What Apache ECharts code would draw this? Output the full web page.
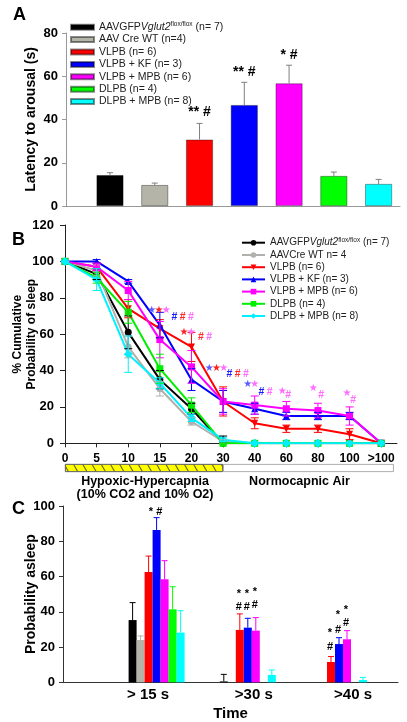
<!DOCTYPE html>
<html><head><meta charset="utf-8">
<script src="https://cdn.jsdelivr.net/npm/echarts@6/dist/echarts.min.js"></script>
<style>html,body{margin:0;padding:0;background:#fff}#c{width:407px;height:722px}</style>
</head><body><div id="c"></div>
<script>
// ---------- Panel A: latency to arousal ----------
const groupNamesA = ['AAVGFPVglut2flox/flox (n= 7)', 'AAV Cre WT (n=4)', 'VLPB (n= 6)', 'VLPB + KF (n= 3)', 'VLPB + MPB (n= 6)', 'DLPB (n= 4)', 'DLPB + MPB (n= 8)'];
const latency = [14.3, 9.7, 30.7, 46.7, 56.7, 13.9, 10.2];
const latencyErr = [1.1, 0.9, 7.5, 10.5, 8.4, 1.8, 2.1];
const annotA = [[2, 43.3, '** #'], [3, 62, '** #'], [4, 69.8, '* #']];

// ---------- Panel B: cumulative probability of sleep ----------
const timeLabels = ['0', '5', '10', '15', '20', '30', '40', '60', '80', '100', '>100'];
const groupNamesB = ['AAVGFPVglut2flox/flox (n= 7)', 'AAVCre WT n= 4', 'VLPB (n= 6)', 'VLPB + KF (n= 3)', 'VLPB + MPB (n= 6)', 'DLPB (n= 4)', 'DLPB + MPB (n= 8)'];
const cumAAVGFP  = [100, 93, 61, 35, 19, 0, 0, 0, 0, 0, 0];
const cumAAVCre  = [100, 95, 53, 30, 12, 1, 0, 0, 0, 0, 0];
const cumVLPB    = [100, 97, 74, 63, 53, 23, 11, 8, 8, 5, 0];
const cumVLPBKF  = [100, 100, 89, 65, 35, 23, 19, 15, 15, 15, 0];
const cumVLPBMPB = [100, 97, 84, 57, 42, 23, 21, 19, 18, 15, 0];
const cumDLPB    = [100, 91, 72, 41, 21, 0, 0, 0, 0, 0, 0];
const cumDLPBMPB = [100, 90, 49, 33, 14, 2, 0, 0, 0, 0, 0];
const errAAVGFP  = [0, 3, 9, 5, 3, 4, 0, 0, 0, 0, 0];
const errAAVCre  = [0, 3, 6, 4, 2, 1, 0, 0, 0, 0, 0];
const errVLPB    = [0, 2, 5, 5, 8, 8, 3, 2, 2, 3, 0];
const errVLPBKF  = [0, 1, 1, 7, 6, 6, 3, 2, 2, 2, 0];
const errVLPBMPB = [0, 2, 5, 10, 9, 7, 5, 4, 4, 5, 0];
const errDLPB    = [0, 3, 6, 8, 4, 1, 0, 0, 0, 0, 0];
const errDLPBMPB = [0, 6, 10, 3, 2, 1, 0, 0, 0, 0, 0];
// significance marks: [x index, y value, marks, colours b=blue r=red m=magenta]
const annotB = [
  [2.97, 73.3, '***', 'brm'], [3.72, 69.4, '###', 'brm'],
  [3.88, 61.2, '**', 'rm'], [4.43, 58.4, '##', 'rm'],
  [4.79, 41.4, '***', 'brm'], [5.46, 38.1, '###', 'brm'],
  [5.89, 32.1, '**', 'bm'], [6.34, 28.2, '##', 'bm'],
  [6.87, 28.8, '*', 'm'], [7.06, 26.6, '#', 'm'],
  [7.85, 30.4, '*', 'm'], [8.10, 26.6, '#', 'm'],
  [8.92, 27.7, '*', 'm'], [9.11, 23.8, '#', 'm']
];
const phaseNames = ['Hypoxic-Hypercapnia\n(10% CO2 and 10% O2)', 'Normocapnic Air'];
const phaseEnds = [5, 10.4];

// ---------- Panel C: probability asleep ----------
const timeCats = ['> 15 s', '>30 s', '>40 s'];
const pAAVGFP  = [35.3, 0.5, 0];
const pAAVCre  = [24.0, 0, 0];
const pVLPB    = [62.6, 29.7, 11.5];
const pVLPBKF  = [86.4, 31.0, 21.7];
const pVLPBMPB = [58.4, 29.3, 24.4];
const pDLPB    = [41.4, 0, 0];
const pDLPBMPB = [28.2, 4.2, 1.3];
const epAAVGFP  = [9.9, 4.0, 0];
const epAAVCre  = [2.3, 0, 0];
const epVLPB    = [9.0, 9.1, 3.1];
const epVLPBKF  = [7.0, 5.3, 3.6];
const epVLPBMPB = [10.6, 7.4, 4.9];
const epDLPB    = [12.8, 0, 0];
const epDLPBMPB = [12.4, 2.8, 1.5];
// [category, bar index, y value, text]
const annotC = [
  [0, 3, 96.5, '* #'],
  [1, 2, 50, '*'], [1, 3, 50, '*'], [1, 4, 51, '*'],
  [1, 2, 42.7, '#'], [1, 3, 42.7, '#'], [1, 4, 43.8, '#'],
  [2, 2, 20, '#'], [2, 2, 27.8, '*'], [2, 3, 29.7, '#'], [2, 3, 38, '*'], [2, 4, 33.7, '#'], [2, 4, 41, '*']
];

// ---------- styling ----------
const FONT = "'Liberation Sans', Arial, sans-serif";
const colA = ['#000000', '#b4b4a8', '#ff0000', '#0000ff', '#ff00ff', '#00ff00', '#00ffff'];
const colB = ['#000000', '#b0b0ac', '#ff0000', '#0000ff', '#ff00ff', '#00ee00', '#00f0ff'];
const symB = ['circle', 'circle', 'triangle', 'triangle', 'rect', 'rect', 'diamond'];
const rotB = [0, 0, 180, 0, 0, 0, 0];
const markCol = {
  '*': {b: '#5b5bff', r: '#ff2020', m: '#ff6cff'},
  '#': {b: '#1a1aff', r: '#ff2a2a', m: '#ff6cff'}
};
const cumAll = [cumAAVGFP, cumAAVCre, cumVLPB, cumVLPBKF, cumVLPBMPB, cumDLPB, cumDLPBMPB];
const errAll = [errAAVGFP, errAAVCre, errVLPB, errVLPBKF, errVLPBMPB, errDLPB, errDLPBMPB];
const pAll = [pAAVGFP, pAAVCre, pVLPB, pVLPBKF, pVLPBMPB, pDLPB, pDLPBMPB];
const epAll = [epAAVGFP, epAAVCre, epVLPB, epVLPBKF, epVLPBMPB, epDLPB, epDLPBMPB];
const BARW_C = 8;

function legendRich(name) {
  return name.replace('Vglut2flox/flox', '{i|Vglut2}{s|flox/flox}');
}

function errorSeries(values, errs, color, ax, opt) {
  return {
    type: 'custom', xAxisIndex: ax, yAxisIndex: ax, z: opt.z || 4, silent: true,
    data: values.map((v, i) => [i, v, errs[i]]),
    renderItem: function (params, api) {
      const x = api.value(0), v = api.value(1), e = api.value(2);
      if (!e) return {type: 'group', children: []};
      const hi = api.coord([x, v + e]);
      const lo = api.coord([x, opt.both ? Math.max(v - e, 0) : v]);
      const X = hi[0] + (opt.dx || 0), c = opt.cap / 2;
      const st = {stroke: color, lineWidth: 1};
      const ch = [
        {type: 'line', shape: {x1: X, y1: lo[1], x2: X, y2: hi[1]}, style: st},
        {type: 'line', shape: {x1: X - c, y1: hi[1], x2: X + c, y2: hi[1]}, style: st}
      ];
      if (opt.both) ch.push({type: 'line', shape: {x1: X - c, y1: lo[1], x2: X + c, y2: lo[1]}, style: st});
      return {type: 'group', children: ch};
    }
  };
}

const axisLabelBold = (size) => ({color: '#000', fontWeight: 'bold', fontSize: size, fontFamily: FONT});

const grid = [
  {left: 87.6, top: 33, width: 313.4, height: 173},      // 0 A bars
  {left: 66, top: 33, width: 334, height: 173},          // 1 A axis line
  {left: 65, top: 225, width: 332, height: 218.3},       // 2 B
  {left: 65, top: 464, width: 332, height: 8},           // 3 phase band
  {left: 111, top: 506, width: 273.6, height: 176.3},    // 4 C bars
  {left: 63, top: 506, width: 335, height: 176.3}        // 5 C axis line
].map(g => Object.assign(g, {outerBoundsMode: 'none', containLabel: false}));

const xAxis = [
  {gridIndex: 0, type: 'category', data: groupNamesA, axisLine: {show: false}, axisTick: {show: false}, axisLabel: {show: false}},
  {gridIndex: 1, type: 'value', min: 0, max: 1, axisLine: {show: true, lineStyle: {color: '#999', width: 1}}, axisTick: {show: false}, axisLabel: {show: false}, splitLine: {show: false}},
  {gridIndex: 2, type: 'value', min: 0, max: 10.5, interval: 1,
    axisLine: {lineStyle: {color: '#222', width: 1}}, axisTick: {show: true, length: 4, lineStyle: {color: '#222'}},
    axisLabel: Object.assign(axisLabelBold(12), {margin: 9, showMaxLabel: false, formatter: v => Number.isInteger(v) ? timeLabels[v] : ''}),
    splitLine: {show: false}},
  {gridIndex: 3, type: 'value', min: 0, max: 10.5, show: false},
  {gridIndex: 4, type: 'category', data: timeCats, axisLine: {show: false}, axisTick: {show: false},
    axisLabel: {margin: 5, interval: 0, hideOverlap: false, fontSize: 15, fontWeight: 'bold', fontFamily: FONT, color: '#000',
      formatter: (v, i) => '{c' + i + '|' + v + '}',
      rich: {c0: {padding: [0, 17, 0, 0]}, c1: {padding: [0, 0, 0, 12]}, c2: {padding: [0, 0, 0, 28]}}}},
  {gridIndex: 5, type: 'value', min: 0, max: 1, axisLine: {show: true, lineStyle: {color: '#333'}}, axisTick: {show: false}, axisLabel: {show: false}, splitLine: {show: false},
    name: 'Time', nameLocation: 'middle', nameGap: 24, nameMoveOverlap: false,
    nameTextStyle: {fontSize: 15, fontWeight: 'bold', fontFamily: FONT, color: '#000'}}
];

const yAxis = [
  {gridIndex: 0, type: 'value', min: 0, max: 80, interval: 20, offset: 21.6,
    axisLine: {show: true, lineStyle: {color: '#999'}}, axisTick: {show: true, length: 4, lineStyle: {color: '#999'}},
    axisLabel: Object.assign(axisLabelBold(13), {margin: 8}), splitLine: {show: false},
    name: 'Latency to arousal (s)', nameLocation: 'middle', nameGap: 28, nameMoveOverlap: false,
    nameTextStyle: {fontSize: 14, fontWeight: 'bold', fontFamily: FONT, color: '#000'}},
  {gridIndex: 1, type: 'value', min: 0, max: 1, show: false},
  {gridIndex: 2, type: 'value', min: 0, max: 120, interval: 20,
    axisLine: {show: true, lineStyle: {color: '#222'}}, axisTick: {show: true, length: 5, lineStyle: {color: '#222'}},
    axisLabel: Object.assign(axisLabelBold(13), {margin: 11}), splitLine: {show: false},
    name: '% Cumulative\nProbability of sleep', nameLocation: 'middle', nameGap: 26, nameMoveOverlap: false,
    nameTextStyle: {fontSize: 12, fontWeight: 'bold', fontFamily: FONT, color: '#000', lineHeight: 14}},
  {gridIndex: 3, type: 'category', data: ['phase'], show: false},
  {gridIndex: 4, type: 'value', min: 0, max: 100, interval: 20, offset: 48,
    axisLine: {show: true, lineStyle: {color: '#333'}}, axisTick: {show: true, length: 4, lineStyle: {color: '#333'}},
    axisLabel: Object.assign(axisLabelBold(13), {margin: 8}), splitLine: {show: false},
    name: 'Probability asleep', nameLocation: 'middle', nameGap: 25, nameMoveOverlap: false,
    nameTextStyle: {fontSize: 14, fontWeight: 'bold', fontFamily: FONT, color: '#000'}},
  {gridIndex: 5, type: 'value', min: 0, max: 1, show: false}
];

const series = [];
// A bars
groupNamesA.forEach((n, i) => {
  series.push({
    name: 'A' + i, type: 'bar', xAxisIndex: 0, yAxisIndex: 0, stack: 'a', barWidth: 27,
    itemStyle: {color: colA[i], borderColor: 'rgba(0,0,0,0.45)', borderWidth: 0.8},
    data: groupNamesA.map((_, j) => j === i ? latency[i] : '-')
  });
});
series.push(errorSeries(latency, latencyErr, '#808080', 0, {cap: 6}));
series.push({
  type: 'custom', xAxisIndex: 0, yAxisIndex: 0, silent: true, z: 5,
  data: annotA.map(a => [a[0], a[1]]),
  renderItem: (params, api) => {
    const a = annotA[params.dataIndex];
    const p = api.coord([a[0], a[1]]);
    return {type: 'text', x: p[0], y: p[1], style: {text: a[2], fill: '#000', font: 'bold 14px ' + FONT, align: 'center', verticalAlign: 'middle'}};
  }
});

// B lines
groupNamesB.forEach((n, i) => {
  series.push({
    name: 'B' + i, type: 'line', xAxisIndex: 2, yAxisIndex: 2,
    symbol: symB[i], symbolRotate: rotB[i], symbolSize: symB[i] === 'diamond' ? 9 : 7, showAllSymbol: true,
    lineStyle: {color: colB[i], width: 2}, itemStyle: {color: colB[i]},
    data: cumAll[i].map((v, j) => [j, v]), z: 2 + i * 0.01
  });
  series.push(errorSeries(cumAll[i], errAll[i], colB[i], 2, {cap: 8, both: true, z: 3}));
});
series.push({
  type: 'custom', xAxisIndex: 2, yAxisIndex: 2, silent: true, z: 6,
  data: annotB.map(a => [a[0], a[1]]),
  renderItem: (params, api) => {
    const a = annotB[params.dataIndex];
    const p = api.coord([a[0], a[1]]);
    const n = a[2].length, step = a[2][0] === '#' ? 8.3 : 7.2;
    const ch = [];
    for (let k = 0; k < n; k++) {
      const m = a[2][k];
      ch.push({type: 'text', x: p[0] + (k - (n - 1) / 2) * step, y: p[1],
        style: {text: m === '*' ? '\u2605' : '#', fill: markCol[m][a[3][k]],
          font: (m === '*' ? '10px DejaVu Sans' : 'bold 10.5px ' + FONT), align: 'center', verticalAlign: 'middle'}});
    }
    return {type: 'group', children: ch};
  }
});
// phase band
phaseEnds.forEach((e, i) => {
  series.push({
    type: 'bar', xAxisIndex: 3, yAxisIndex: 3, stack: 'phase', barWidth: 8, silent: true,
    data: [i === 0 ? e : e - phaseEnds[i - 1]],
    itemStyle: i === 0 ? {color: '#ffff00', borderColor: '#666', borderWidth: 0.8,
      decal: {symbol: 'rect', symbolSize: 1, color: 'rgba(60,60,0,0.85)', dashArrayX: [[1, 0]], dashArrayY: [1, 7], rotation: Math.PI / 3}}
      : {color: '#ffffff', borderColor: '#999', borderWidth: 0.8},
    label: {show: true, position: 'bottom', distance: 3, offset: [i === 0 ? 1 : -9, 0], formatter: () => phaseNames[i],
      fontSize: 12.5, fontWeight: 'bold', fontFamily: FONT, color: '#000', lineHeight: 13, align: 'center'}
  });
});

// C bars
pAll.forEach((vals, i) => {
  series.push({
    type: 'bar', xAxisIndex: 4, yAxisIndex: 4, barWidth: BARW_C, barGap: '0%', silent: true,
    itemStyle: {color: colA[i]}, data: vals
  });
  series.push(errorSeries(vals, epAll[i], colA[i], 4, {cap: 6, dx: (i - 3) * BARW_C}));
});
series.push({
  type: 'custom', xAxisIndex: 4, yAxisIndex: 4, silent: true, z: 6,
  data: annotC.map(a => [a[0], a[2]]),
  renderItem: (params, api) => {
    const a = annotC[params.dataIndex];
    const p = api.coord([a[0], a[2]]);
    return {type: 'text', x: p[0] + (a[1] - 3) * BARW_C - 1, y: p[1],
      style: {text: a[3], fill: '#000', font: 'bold 11px ' + FONT, align: 'center', verticalAlign: 'middle'}};
  }
});

const richLegend = (size) => ({
  i: {fontStyle: 'italic', fontSize: size, fontFamily: FONT, color: '#222', lineHeight: 12.4},
  s: {fontSize: 6.5, fontFamily: FONT, color: '#222', verticalAlign: 'top', lineHeight: 7}
});

const option = {
  animation: false,
  backgroundColor: '#fff',
  grid: grid, xAxis: xAxis, yAxis: yAxis, series: series,
  legend: [
    {data: groupNamesA.map((_, i) => 'A' + i), left: 70, top: 21, padding: 0, orient: 'vertical', itemGap: 0,
      itemWidth: 23, itemHeight: 5, icon: 'rect', selectedMode: false,
      formatter: name => legendRich(groupNamesA[+name.slice(1)]),
      textStyle: {fontSize: 10.5, fontFamily: FONT, color: '#222', lineHeight: 12.4, rich: richLegend(10.5)}},
    {data: groupNamesB.map((_, i) => 'B' + i), left: 241, top: 236.5, padding: 0, orient: 'vertical', itemGap: 0,
      itemWidth: 23, itemHeight: 7, selectedMode: false, itemStyle: {borderWidth: 0},
      formatter: name => legendRich(groupNamesB[+name.slice(1)]),
      textStyle: {fontSize: 10, fontFamily: FONT, color: '#222', lineHeight: 12.2, rich: richLegend(10)}}
  ],
  graphic: [
    {type: 'text', left: 13, top: 6, style: {text: 'A', font: 'bold 18px ' + FONT, fill: '#000'}},
    {type: 'text', left: 12, top: 231, style: {text: 'B', font: 'bold 18px ' + FONT, fill: '#000'}},
    {type: 'text', left: 12, top: 500, style: {text: 'C', font: 'bold 18px ' + FONT, fill: '#000'}}
  ]
};

const chart = echarts.init(document.getElementById('c'));
chart.setOption(option);
</script>
</body></html>
